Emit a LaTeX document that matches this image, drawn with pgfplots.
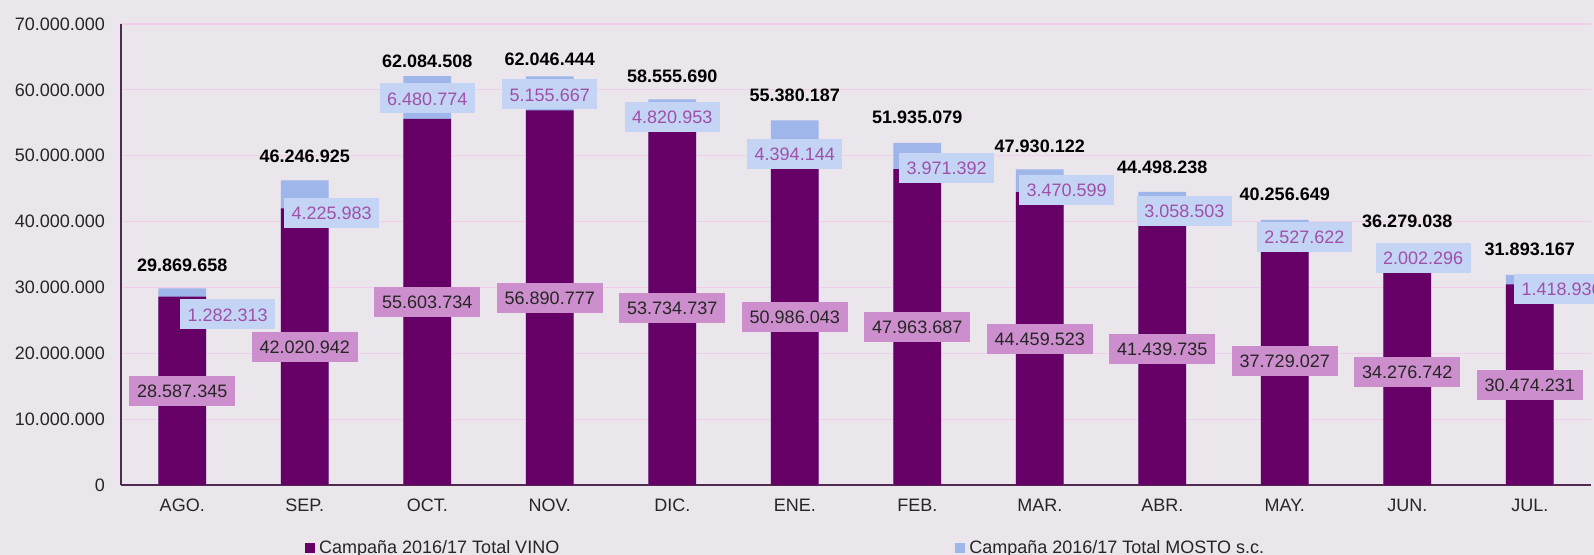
\documentclass[border=0pt]{standalone}
\usepackage{fontspec}
\setmainfont{Liberation Sans}
\usepackage{pgfplots}
\usepackage{pgfplotstable}
\pgfplotsset{compat=1.18}

\definecolor{bg}{RGB}{235,229,236}
\definecolor{vino}{RGB}{102,0,102}
\definecolor{mosto}{RGB}{158,182,233}
\definecolor{mostobox}{RGB}{196,212,244}
\definecolor{mostotxt}{RGB}{160,80,168}
\definecolor{vinobox}{RGB}{204,142,204}
\definecolor{gridc}{RGB}{240,206,236}
\definecolor{axc}{RGB}{80,40,80}

% x, vino, total (= vino + mosto), label positions
\pgfplotstableread{
x vino total vlab mx my mlab ty tlab
0 28587345 29869658 28.587.345 0.37 25900000 1.282.313 33300000 29.869.658
1 42020942 46246925 42.020.942 1.22 41300000 4.225.983 49850000 46.246.925
2 55603734 62084508 55.603.734 2.00 58700000 6.480.774 64400000 62.084.508
3 56890777 62046444 56.890.777 3.00 59300000 5.155.667 64600000 62.046.444
4 53734737 58555690 53.734.737 4.00 55900000 4.820.953 62100000 58.555.690
5 50986043 55380187 50.986.043 5.00 50200000 4.394.144 59100000 55.380.187
6 47963687 51935079 47.963.687 6.24 48200000 3.971.392 55800000 51.935.079
7 44459523 47930122 44.459.523 7.22 44800000 3.470.599 51500000 47.930.122
8 41439735 44498238 41.439.735 8.18 41600000 3.058.503 48200000 44.498.238
9 37729027 40256649 37.729.027 9.16 37700000 2.527.622 44200000 40.256.649
10 34276742 36279038 34.276.742 10.13 34500000 2.002.296 40000000 36.279.038
11 30474231 31893167 30.474.231 11.26 29800000 1.418.936 35800000 31.893.167
}\data

\begin{document}
\begin{tikzpicture}
\fill[bg] (-60.5pt,-35pt) rectangle (736.5pt,242.5pt);
\begin{axis}[
  at={(0,0)}, anchor=south west,
  scale only axis, width=735pt, height=230.5pt,
  xmin=-0.5, xmax=11.5, ymin=0, ymax=70000000,
  axis x line*=bottom, axis y line*=left,
  axis line style={axc, line width=0.9pt},
  xtick={0,...,11},
  xticklabels={AGO.,SEP.,OCT.,NOV.,DIC.,ENE.,FEB.,MAR.,ABR.,MAY.,JUN.,JUL.},
  ytick={0,10000000,20000000,30000000,40000000,50000000,60000000,70000000},
  scaled y ticks=false,
  yticklabel={\pgfmathprintnumber[fixed,precision=0,1000 sep={.},assume math mode=true]{\tick}},
  major tick length=0pt,
  ymajorgrids, grid style={gridc, line width=0.6pt},
  tick label style={font=\fontsize{9}{10}\selectfont, text=black!85},
  yticklabel style={xshift=-4.5pt},
  xticklabel style={yshift=-3.5pt},
  clip=false,
  legend columns=2,
  legend style={at={(0.125,-0.137)}, anchor=west, draw=none, fill=none, inner sep=0pt,
    font=\fontsize{9}{10}\selectfont, text=black!85,
    /tikz/every even column/.append style={column sep=196pt}},
  legend image code/.code={\fill[#1] (0pt,-2.6pt) rectangle (5pt,2.6pt);},
]
\addplot[ybar, bar width=0.39, bar shift=0pt, fill=mosto, draw=none, forget plot]
  table[x=x, y=total]{\data};
\addplot[ybar, bar width=0.39, bar shift=0pt, fill=vino, draw=none, forget plot]
  table[x=x, y=vino]{\data};

\addplot[draw=none, mark=none, forget plot, nodes near coords, point meta=explicit symbolic,
  nodes near coords align=center,
  every node near coord/.append style={anchor=center, fill=vinobox, text=black!85,
    inner xsep=4pt, inner ysep=4.2pt, text height=6.6pt, text depth=0pt,
    font=\fontsize{9}{10}\selectfont}]
  table[x=x, y expr=\thisrow{vino}/2, meta=vlab]{\data};
\addplot[draw=none, mark=none, forget plot, nodes near coords, point meta=explicit symbolic,
  nodes near coords align=center,
  every node near coord/.append style={anchor=center, fill=mostobox, text=mostotxt,
    inner xsep=3.8pt, inner ysep=4.2pt, text height=6.6pt, text depth=0pt,
    font=\fontsize{9}{10}\selectfont}]
  table[x=mx, y=my, meta=mlab]{\data};
\addplot[draw=none, mark=none, forget plot, nodes near coords, point meta=explicit symbolic,
  nodes near coords align=center,
  every node near coord/.append style={anchor=center, text=black,
    font=\bfseries\fontsize{9}{10}\selectfont}]
  table[x=x, y=ty, meta=tlab]{\data};

\addlegendimage{fill=vino, draw=none}
\addlegendentry{Campaña 2016/17 Total VINO}
\addlegendimage{fill=mosto, draw=none}
\addlegendentry{Campaña 2016/17 Total MOSTO s.c.}
\end{axis}
\pgfresetboundingbox
\path (-60.5pt,-35pt) rectangle (736.5pt,242.5pt);
\end{tikzpicture}
\end{document}
